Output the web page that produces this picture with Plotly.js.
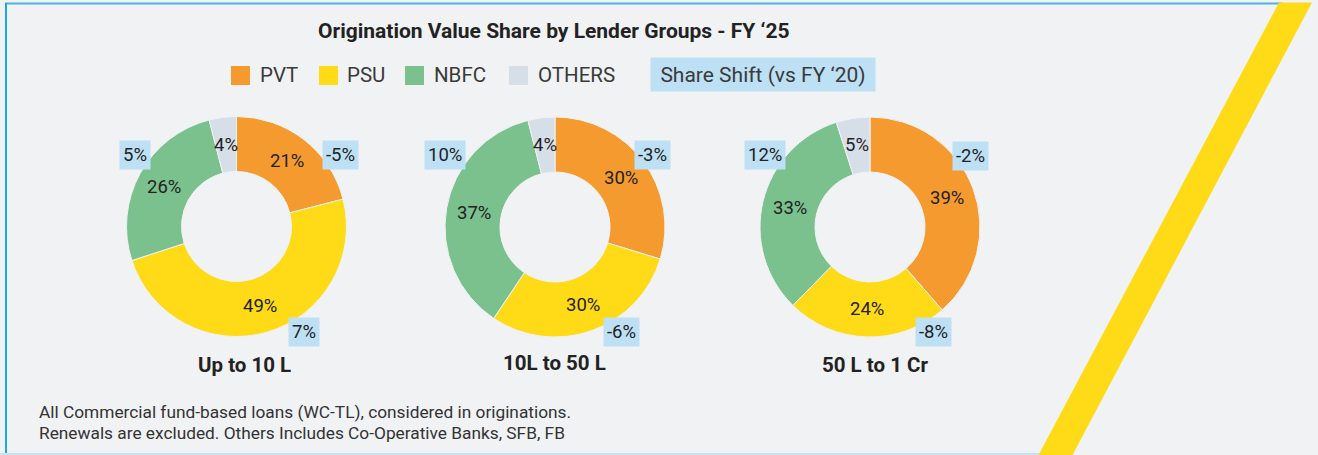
<!DOCTYPE html>
<html>
<head>
<meta charset="utf-8">
<script src="https://cdn.plot.ly/plotly-3.0.1.min.js"></script>
<style>
html,body{margin:0;padding:0;background:#F1F2F4;}
#chart{width:1318px;height:455px;}
</style>
</head>
<body>
<div id="chart"></div>
<script>
// ---- data ----
const categories = ['PVT', 'PSU', 'NBFC', 'OTHERS'];
const groups = ['Up to 10 L', '10L to 50 L', '50 L to 1 Cr'];
const pvtShare = [21, 30, 39];
const psuShare = [49, 30, 24];
const nbfcShare = [26, 37, 33];
const othersShare = [4, 4, 5];
const pvtShift = [-5, -3, -2];
const psuShift = [7, -6, -8];
const nbfcShift = [5, 10, 12];
const titleText = 'Origination Value Share by Lender Groups - FY \u201825';
const shiftLegendText = 'Share Shift (vs FY \u201820)';
const footLines = [
  'All Commercial fund-based loans (WC-TL), considered in originations.',
  'Renewals are excluded. Others Includes Co-Operative Banks, SFB, FB'
];

// ---- style / layout ----
const W = 1318, H = 455;
const colors = ['#F59A2E', '#FFDA16', '#7BC18E', '#D6DEE8'];
const bg = '#F1F2F4';
const shiftBg = '#BDE0F5';
const X = px => px / W;
const Y = py => 1 - py / H;
const centers = [[236.5, 226.5], [555, 227], [870, 227]];
const R = 110;
const HOLE = 0.5;
const shiftPos = [
  { pvt: [340, 155], nbfc: [135, 155], psu: [304, 332] },
  { pvt: [652, 155], nbfc: [445, 155], psu: [621, 332] },
  { pvt: [970, 156], nbfc: [765, 155], psu: [933, 332] }
];
const groupLabelPos = [[245, 365], [554.5, 363], [875, 365]];
const fmtShift = v => v + '%';

const annotations = [];
const shapes = [];

const traces = groups.map((g, i) => {
  const vals = [pvtShare[i], psuShare[i], nbfcShare[i], othersShare[i]];
  const c = centers[i];
  // value labels at the middle of the ring, at each slice's mid angle
  const total = vals.reduce((a, b) => a + b, 0);
  let cum = 0;
  vals.forEach(v => {
    const mid = (cum + v / 2) / total * 2 * Math.PI;
    cum += v;
    const rr = R * (1 + HOLE) / 2;
    annotations.push({
      xref: 'paper', yref: 'paper',
      x: X(c[0] + rr * Math.sin(mid)), y: Y(c[1] - rr * Math.cos(mid)),
      xanchor: 'center', yanchor: 'middle', text: v + '%', showarrow: false,
      font: { family: 'Roboto, sans-serif', size: 18.5, color: '#222' }
    });
  });
  return {
    type: 'pie',
    name: g,
    labels: categories,
    values: vals,
    textinfo: 'none',
    hole: HOLE,
    sort: false,
    direction: 'clockwise',
    rotation: 0,
    marker: { colors: colors, line: { color: bg, width: 1 } },
    domain: { x: [X(c[0] - R), X(c[0] + R)], y: [Y(c[1] + R), Y(c[1] - R)] },
    showlegend: false,
    hoverinfo: 'label+value'
  };
});

// title
annotations.push({
  xref: 'paper', yref: 'paper', x: X(553.5), y: Y(31), xanchor: 'center', yanchor: 'middle',
  text: '<b>' + titleText + '</b>', showarrow: false,
  font: { family: 'Roboto, sans-serif', size: 21, color: '#222' }
});

// legend items
const legSq = [231, 319, 405, 509];
const legTx = [258, 345, 432, 536];
categories.forEach((cat, k) => {
  shapes.push({
    type: 'rect', xref: 'paper', yref: 'paper',
    x0: X(legSq[k]), x1: X(legSq[k] + 19), y0: Y(85), y1: Y(66),
    fillcolor: colors[k], line: { width: 0 }
  });
  annotations.push({
    xref: 'paper', yref: 'paper', x: X(legTx[k]), y: Y(75.5), xanchor: 'left', yanchor: 'middle',
    text: cat, showarrow: false,
    font: { family: 'Roboto, sans-serif', size: 20.5, color: '#3a3a3a' }
  });
});
annotations.push({
  xref: 'paper', yref: 'paper', x: X(763), y: Y(74.5), xanchor: 'center', yanchor: 'middle',
  text: shiftLegendText, showarrow: false, bgcolor: shiftBg, borderpad: 3,
  width: 218, height: 27,
  font: { family: 'Roboto, sans-serif', size: 21, color: '#3a3a3a' }
});

// share shift labels + group labels
groups.forEach((g, i) => {
  const sp = shiftPos[i];
  [['pvt', pvtShift[i]], ['nbfc', nbfcShift[i]], ['psu', psuShift[i]]].forEach(([key, v]) => {
    annotations.push({
      xref: 'paper', yref: 'paper', x: X(sp[key][0]), y: Y(sp[key][1]),
      xanchor: 'center', yanchor: 'middle', text: fmtShift(v), showarrow: false,
      bgcolor: shiftBg, borderpad: 3,
      font: { family: 'Roboto, sans-serif', size: 18.5, color: '#222' }
    });
  });
  annotations.push({
    xref: 'paper', yref: 'paper', x: X(groupLabelPos[i][0]), y: Y(groupLabelPos[i][1]),
    xanchor: 'center', yanchor: 'middle', text: '<b>' + g + '</b>', showarrow: false,
    font: { family: 'Roboto, sans-serif', size: 20.5, color: '#222' }
  });
});

// footnote
footLines.forEach((t, k) => {
  annotations.push({
    xref: 'paper', yref: 'paper', x: X(37), y: Y(412 + k * 21), xanchor: 'left', yanchor: 'middle',
    text: t, showarrow: false,
    font: { family: 'Roboto, sans-serif', size: 17.3, color: '#333' }
  });
});

// frame
shapes.push({ type: 'line', xref: 'paper', yref: 'paper', x0: X(5), x1: X(1282), y0: Y(3.5), y1: Y(3.5), line: { color: '#4DB3DF', width: 2 } });
shapes.push({ type: 'line', xref: 'paper', yref: 'paper', x0: X(6), x1: X(6), y0: Y(3), y1: Y(455), line: { color: '#1AA8E6', width: 2 } });
shapes.push({ type: 'line', xref: 'paper', yref: 'paper', x0: X(0), x1: X(1040), y0: Y(454), y1: Y(454), line: { color: '#C4E4F2', width: 2 } });
// yellow stripe
shapes.push({
  type: 'path', xref: 'paper', yref: 'paper',
  path: 'M ' + X(1279) + ' ' + Y(2.5) + ' L ' + X(1312) + ' ' + Y(2.5) + ' L ' + X(1072) + ' ' + Y(456) + ' L ' + X(1038) + ' ' + Y(456) + ' Z',
  fillcolor: '#FFDA16', line: { width: 0 }
});

const layout = {
  width: W, height: H,
  margin: { l: 0, r: 0, t: 0, b: 0, pad: 0 },
  paper_bgcolor: bg, plot_bgcolor: bg,
  showlegend: false,
  annotations: annotations,
  shapes: shapes,
  font: { family: 'Roboto, sans-serif' }
};

Plotly.newPlot('chart', traces, layout, { displayModeBar: false, staticPlot: true });
</script>
</body>
</html>
